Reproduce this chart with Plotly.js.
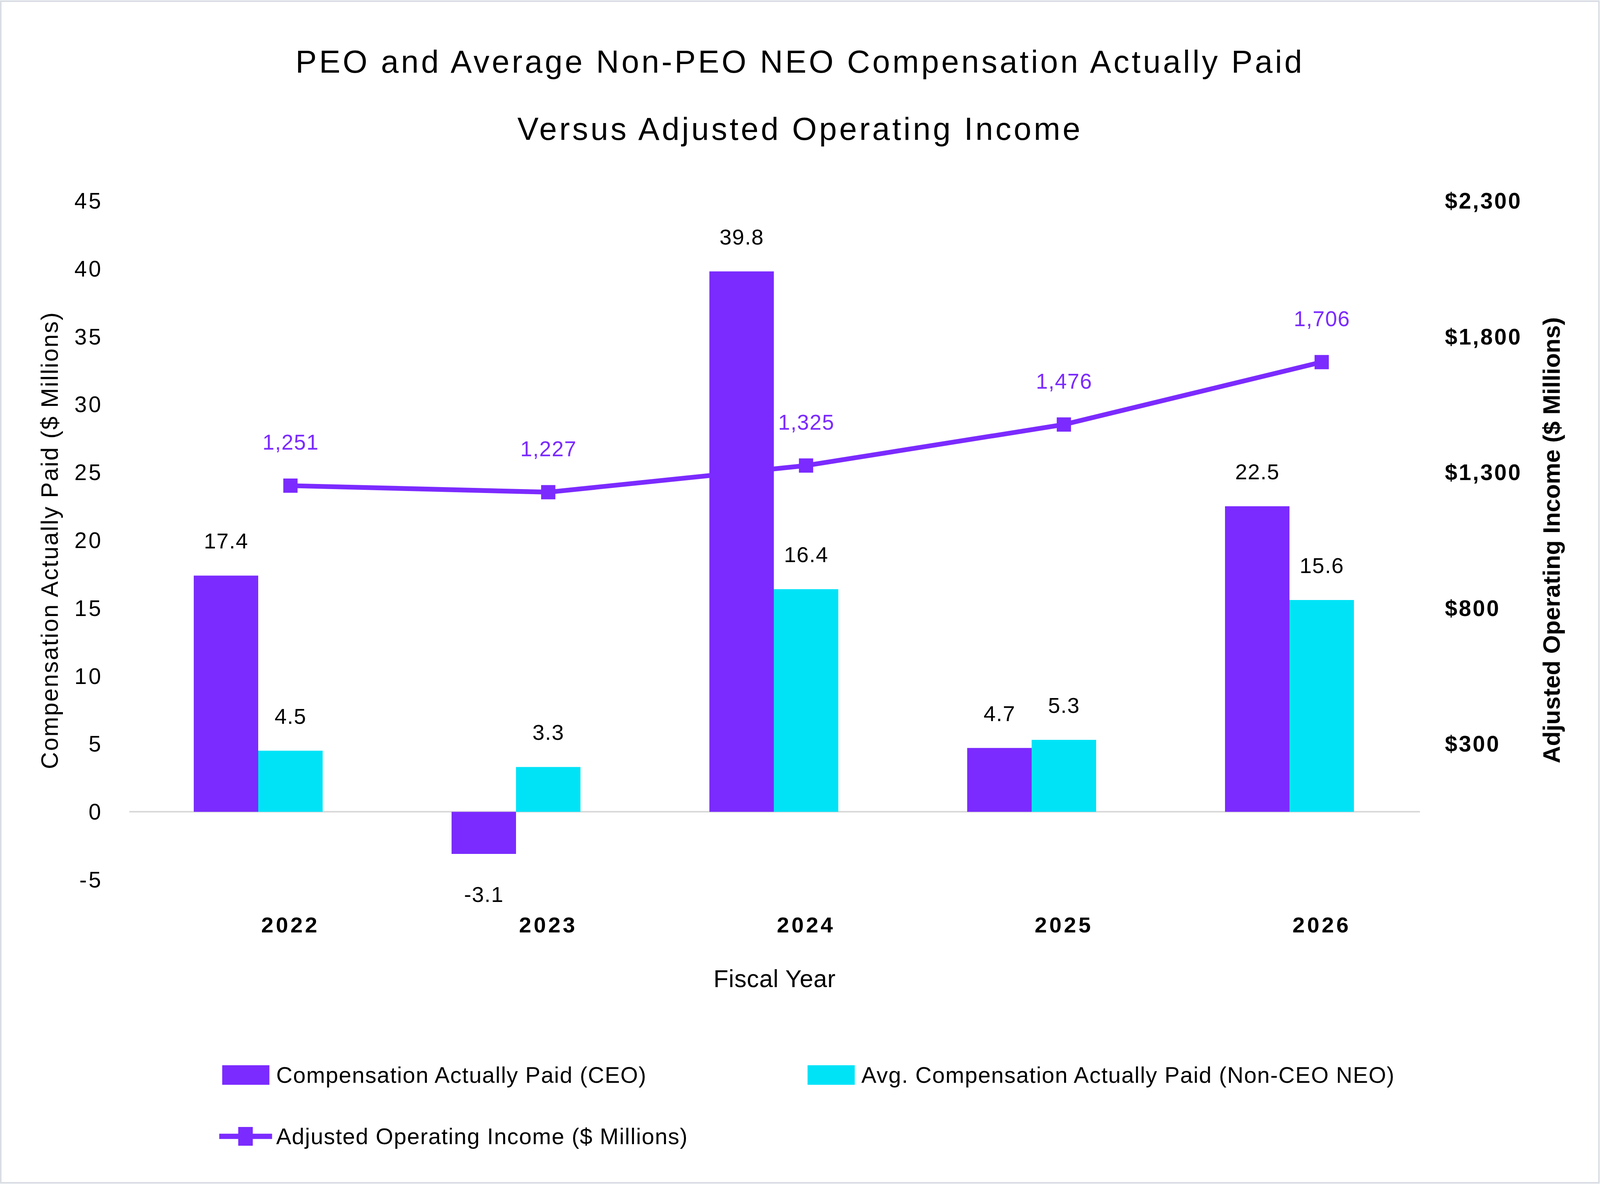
<!DOCTYPE html>
<html>
<head>
<meta charset="utf-8">
<script src="https://cdn.plot.ly/plotly-3.0.1.min.js"></script>
<style>
  html, body { margin: 0; padding: 0; background: #fff; overflow: hidden; }
  /* the source chart renders its text slightly tracked out */
  .gtitle { letter-spacing: 0.075em; }
  #chart .ytick text { letter-spacing: 0.08em; }
  #chart .y2tick text { letter-spacing: 0.067em; }
  #chart .xtick text { letter-spacing: 0.108em; }
  #chart .g-ytitle text { letter-spacing: 0.044em; }
  #chart .g-xtitle text { letter-spacing: 0.012em; }
  .annotation-text { letter-spacing: 0.027em; }
  #chart .annotation[data-index="0"] .annotation-text { letter-spacing: 0.075em; }
</style>
</head>
<body>
<div id="chart"></div>
<script>
const years = ["2022", "2023", "2024", "2025", "2026"];
const capCeo = [17.4, -3.1, 39.8, 4.7, 22.5];
const capNeo = [4.5, 3.3, 16.4, 5.3, 15.6];
const adjOpIncome = [1251, 1227, 1325, 1476, 1706];
const compTicks = [-5, 0, 5, 10, 15, 20, 25, 30, 35, 40, 45];
const incomeTicks = [300, 800, 1300, 1800, 2300];
const titleLines = [
	"PEO and Average Non-PEO NEO Compensation Actually Paid",
	"Versus Adjusted Operating Income"
];
const seriesNames = [
	"Compensation Actually Paid (CEO)",
	"Avg. Compensation Actually Paid (Non-CEO NEO)",
	"Adjusted Operating Income ($ Millions)"
];

const PURPLE = "#7B2BFF";
const CYAN = "#00E3F7";
const FONT = "Liberation Sans, Arial, sans-serif";

// layout is measured on a 5390x3031 canvas and scaled to the window
const REF_W = 5390, REF_H = 3031;
const W = window.innerWidth || REF_W;
const H = window.innerHeight || REF_H;
const sx = W / REF_W, sy = H / REF_H, k = Math.min(sx, sy);
document.getElementById("chart").style.width = W + "px";
document.getElementById("chart").style.height = H + "px";

const ref = { l: 436, r: 606, t: 514, b: 779 };
const margin = { l: ref.l * sx, r: ref.r * sx, t: ref.t * sy, b: ref.b * sy, pad: 0 };
const refPlotW = REF_W - ref.l - ref.r;
const refPlotH = REF_H - ref.t - ref.b;
// reference pixel -> paper helpers for the hand-built legend, title line and frame
const px = (x) => (x - ref.l) / refPlotW;
const py = (y) => (REF_H - ref.b - y) / refPlotH;

const barCeo = {
	type: "bar",
	name: seriesNames[0],
	x: years,
	y: capCeo,
	width: 0.25,
	offset: -0.375,
	marker: { color: PURPLE, line: { width: 0 } }
};
const barNeo = {
	type: "bar",
	name: seriesNames[1],
	x: years,
	y: capNeo,
	width: 0.25,
	offset: -0.125,
	marker: { color: CYAN, line: { width: 0 } }
};
const lineIncome = {
	type: "scatter",
	mode: "lines+markers",
	name: seriesNames[2],
	x: years,
	y: adjOpIncome,
	yaxis: "y2",
	line: { color: PURPLE, width: 16 * k },
	marker: { symbol: "square", size: 48 * k, color: PURPLE }
};

// second title line (index 0, picked up by the css above)
const annotations = [{
	x: px(2695), y: py(330), xref: "paper", yref: "paper",
	text: titleLines[1], showarrow: false, xanchor: "center", yanchor: "middle",
	font: { size: 107 * k, color: "#000000" }
}];

years.forEach((yr, i) => {
	annotations.push({
		x: i - 0.25, y: capCeo[i], xref: "x", yref: "y",
		text: String(capCeo[i]), showarrow: false, yanchor: "middle",
		yshift: (capCeo[i] >= 0 ? 88 : -104) * sy,
		font: { size: 73 * k, color: "#000000" }
	});
	annotations.push({
		x: i, y: capNeo[i], xref: "x", yref: "y",
		text: String(capNeo[i]), showarrow: false, yanchor: "middle",
		yshift: (capNeo[i] >= 0 ? 88 : -104) * sy,
		font: { size: 73 * k, color: "#000000" }
	});
	annotations.push({
		x: i, y: adjOpIncome[i], xref: "x", yref: "y2",
		text: adjOpIncome[i].toLocaleString("en-US"), showarrow: false, yanchor: "middle",
		yshift: 111 * sy,
		font: { size: 72 * k, color: PURPLE }
	});
});

// legend, drawn by hand so the keys keep the source proportions
const legendText = [
	{ name: seriesNames[0], x: 930, y: 2752 },
	{ name: seriesNames[1], x: 2901, y: 2752 },
	{ name: seriesNames[2], x: 930, y: 2909 }
];
legendText.forEach((d) => {
	annotations.push({
		x: px(d.x), y: py(d.y), xref: "paper", yref: "paper",
		text: d.name, showarrow: false, xanchor: "left", yanchor: "middle",
		borderpad: 0,
		font: { size: 76 * k, color: "#000000" }
	});
});

const shapes = [
	{ type: "rect", xref: "paper", yref: "paper", x0: px(749), x1: px(908), y0: py(2777), y1: py(2727),
		fillcolor: PURPLE, line: { width: 0 } },
	{ type: "rect", xref: "paper", yref: "paper", x0: px(2721), x1: px(2880), y0: py(2777), y1: py(2727),
		fillcolor: CYAN, line: { width: 0 } },
	{ type: "line", xref: "paper", yref: "paper", x0: px(739), x1: px(917), y0: py(2909), y1: py(2909),
		line: { color: PURPLE, width: 18 * k } },
	{ type: "rect", xref: "paper", yref: "paper", x0: px(803), x1: px(852), y0: py(2933), y1: py(2885),
		fillcolor: PURPLE, line: { width: 0 } },
	{ type: "rect", xref: "paper", yref: "paper", x0: px(3), x1: px(REF_W - 3), y0: py(REF_H - 3), y1: py(3),
		fillcolor: "rgba(0,0,0,0)", line: { color: "#D9DDE3", width: 5 * k } }
];

Plotly.newPlot("chart", [barCeo, barNeo, lineIncome], {
	width: W,
	height: H,
	paper_bgcolor: "#FFFFFF",
	plot_bgcolor: "#FFFFFF",
	font: { family: FONT, color: "#000000", size: 74 * k },
	margin: margin,
	showlegend: false,
	hovermode: false,
	title: {
		text: titleLines[0],
		x: 0.5,
		xref: "container",
		y: 1 - 158 / REF_H,
		yref: "container",
		yanchor: "middle",
		font: { size: 107 * k, color: "#000000" }
	},
	xaxis: {
		type: "category",
		range: [-0.625, 4.381],
		showgrid: false,
		zeroline: false,
		showline: false,
		ticks: "",
		ticklabelstandoff: Math.round(116 * sy - 50 * k),
		tickfont: { size: 74 * k, weight: 700 },
		title: { text: "Fiscal Year", font: { size: 82 * k }, standoff: 142 * sy - 75 * k }
	},
	yaxis: {
		range: [-5, 45],
		tickvals: compTicks,
		ticktext: compTicks.map(String),
		showgrid: false,
		zeroline: true,
		zerolinecolor: "#D9D9D9",
		zerolinewidth: 6 * k,
		showline: false,
		ticks: "",
		ticklabelstandoff: Math.round(88 * sx),
		tickfont: { size: 75 * k },
		title: { text: "Compensation Actually Paid ($ Millions)", font: { size: 80 * k }, standoff: 40 * sx }
	},
	yaxis2: {
		overlaying: "y",
		side: "right",
		range: [-200, 2300],
		tickvals: incomeTicks,
		ticktext: incomeTicks.map((v) => "$" + v.toLocaleString("en-US")),
		showgrid: false,
		zeroline: false,
		showline: false,
		ticks: "",
		ticklabelstandoff: Math.round(83 * sx),
		tickfont: { size: 75 * k, weight: 700 },
		title: { text: "Adjusted Operating Income ($ Millions)", font: { size: 81 * k, weight: 700 }, standoff: 102 * sx }
	},
	annotations: annotations,
	shapes: shapes
}, {
	staticPlot: true,
	displayModeBar: false
});
</script>
</body>
</html>
